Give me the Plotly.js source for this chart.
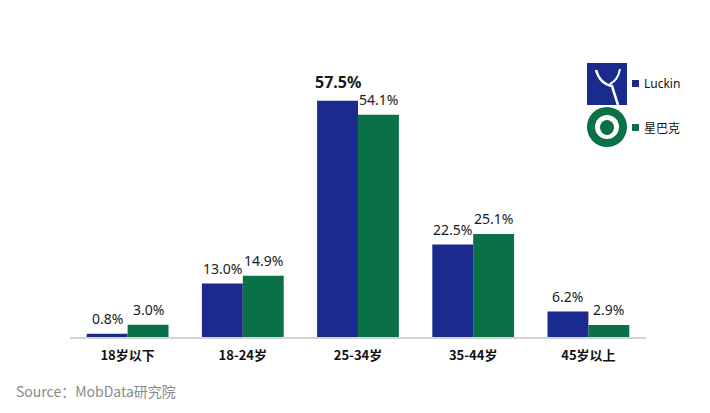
<!DOCTYPE html>
<html><head><meta charset="utf-8">
<script src="https://cdn.plot.ly/plotly-3.0.1.min.js"></script>
<style>html,body{margin:0;padding:0;background:#fff;}#chart{width:710px;height:413px;}</style>
</head><body><div id="chart"></div>
<script>
const categories = ['18岁以下', '18-24岁', '25-34岁', '35-44岁', '45岁以上'];
const luckinValues = [0.8, 13.0, 57.5, 22.5, 6.2];
const starbucksValues = [3.0, 14.9, 54.1, 25.1, 2.9];
const seriesNames = ['Luckin', '星巴克'];
const sourceText = 'Source：MobData研究院';

const BLUE = '#1b2a8e', GREEN = '#0a7047';
const font = '"Noto Sans CJK SC", "Noto Sans", sans-serif';
const labelFont = '"Noto Sans", "Open Sans", sans-serif';
const maxL = Math.max(...luckinValues);

const traces = [
  {type: 'bar', x: categories, y: luckinValues, name: seriesNames[0], marker: {color: BLUE}, hoverinfo: 'none'},
  {type: 'bar', x: categories, y: starbucksValues, name: seriesNames[1], marker: {color: GREEN}, hoverinfo: 'none'}
];

// value labels above bars (grouped bar half-width ~20.5px)
const valueAnnotations = [];
luckinValues.forEach((v, i) => {
  const big = v === maxL;
  valueAnnotations.push({x: categories[i], y: v, xref: 'x', yref: 'y', xshift: -20.5, yshift: big ? 6 : 4,
    yanchor: 'bottom', showarrow: false,
    text: big ? '<b>' + v.toFixed(1) + '%</b>' : v.toFixed(1) + '%',
    font: {size: big ? 16 : 14, color: '#1a1a1a', family: labelFont}});
});
starbucksValues.forEach((v, i) => {
  valueAnnotations.push({x: categories[i], y: v, xref: 'x', yref: 'y', xshift: 20.5, yshift: 4,
    yanchor: 'bottom', showarrow: false, text: v.toFixed(1) + '%',
    font: {size: 14, color: '#1a1a1a', family: labelFont}});
});

const px = x => (x - 70) / 576, py = y => (337 - y) / 267;
const layout = {
  width: 710, height: 413,
  margin: {l: 70, r: 64, t: 70, b: 76},
  paper_bgcolor: '#fff', plot_bgcolor: '#fff',
  barmode: 'group', bargap: 0.29, bargroupgap: 0,
  showlegend: false,
  font: {family: font},
  xaxis: {type: 'category', showline: true, linecolor: '#d4d4d4', linewidth: 1.5, ticks: '',
          ticklabelstandoff: 6,
          tickfont: {size: 13, color: '#111', family: font, weight: 'bold'}, fixedrange: true},
  yaxis: {range: [0, 65], visible: false, showgrid: false, zeroline: false, fixedrange: true},
  shapes: [
    {type: 'rect', xref: 'paper', yref: 'paper', x0: px(587), x1: px(627), y0: py(105), y1: py(63), fillcolor: BLUE, line: {width: 0}},
    {type: 'path', xref: 'paper', yref: 'paper',
     path: 'M ' + px(596) + ' ' + py(70) + ' Q ' + px(600) + ' ' + py(84) + ' ' + px(612) + ' ' + py(86) + ' L ' + px(618) + ' ' + py(105),
     line: {color: '#fff', width: 2.5}},
    {type: 'path', xref: 'paper', yref: 'paper',
     path: 'M ' + px(620) + ' ' + py(69) + ' Q ' + px(618) + ' ' + py(80) + ' ' + px(610) + ' ' + py(84),
     line: {color: '#fff', width: 2}},
    {type: 'circle', xref: 'paper', yref: 'paper', x0: px(587), x1: px(627), y0: py(147), y1: py(107), fillcolor: GREEN, line: {width: 0}},
    {type: 'circle', xref: 'paper', yref: 'paper', x0: px(595), x1: px(619), y0: py(139), y1: py(115), fillcolor: '#fff', line: {width: 0}},
    {type: 'circle', xref: 'paper', yref: 'paper', x0: px(600), x1: px(614), y0: py(135), y1: py(120), fillcolor: GREEN, line: {width: 0}},
    {type: 'rect', xref: 'paper', yref: 'paper', x0: px(632), x1: px(639), y0: py(87), y1: py(80), fillcolor: BLUE, line: {width: 0}},
    {type: 'rect', xref: 'paper', yref: 'paper', x0: px(632), x1: px(639), y0: py(131), y1: py(124), fillcolor: GREEN, line: {width: 0}}
  ],
  annotations: valueAnnotations.concat([
    {xref: 'paper', yref: 'paper', x: px(642), y: py(83.5), xanchor: 'left', yanchor: 'middle',
     text: seriesNames[0], showarrow: false, font: {size: 12, color: '#111', family: labelFont}},
    {xref: 'paper', yref: 'paper', x: px(642), y: py(127.5), xanchor: 'left', yanchor: 'middle',
     text: seriesNames[1], showarrow: false, font: {size: 12, color: '#111', family: font}},
    {xref: 'paper', yref: 'paper', x: px(14), y: py(391), xanchor: 'left', yanchor: 'middle',
     text: sourceText, showarrow: false, font: {size: 14, color: '#8a8a8a', family: font}}
  ])
};
Plotly.newPlot('chart', traces, layout, {displayModeBar: false, staticPlot: true});
</script></body></html>
